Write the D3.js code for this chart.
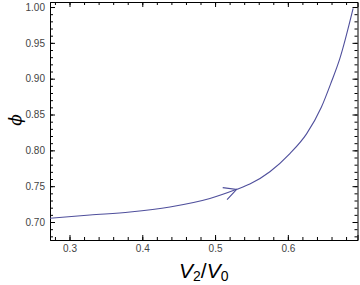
<!DOCTYPE html>
<html>
<head>
<meta charset="utf-8">
<script src="https://cdn.jsdelivr.net/npm/d3@7"></script>
<style>
  body { margin: 0; background: #fff; }
  svg { display: block; }
</style>
</head>
<body>
<svg id="chart"></svg>
<script>
var width = 360,
    height = 285;

// curve samples
var ratio = [0.2732, 0.3281, 0.3831, 0.4380, 0.4929, 0.5296, 0.5478, 0.5753, 0.6028, 0.6257, 0.6460, 0.6600, 0.6714, 0.6897];
var phi   = [0.7052, 0.7098, 0.7140, 0.7210, 0.7328, 0.7456, 0.7530, 0.7702, 0.7955, 0.8230, 0.8600, 0.8960, 0.9280, 0.9982];
var arrowIndex = 5;

var xTicks = [0.3, 0.4, 0.5, 0.6];
var yTicks = [0.70, 0.75, 0.80, 0.85, 0.90, 0.95, 1.00];
var xMinor = d3.range(0.28, 0.70, 0.02);
var yMinor = d3.range(0.68, 1.005, 0.01);

var MARGIN = { LEFT: 50, RIGHT: 2.5, TOP: 2, BOTTOM: 45 };
var plotW = width - MARGIN.LEFT - MARGIN.RIGHT,
    plotH = height - MARGIN.TOP - MARGIN.BOTTOM;

var xScale = d3.scaleLinear().domain([0.2732, 0.6957]).range([0, plotW]);
var yScale = d3.scaleLinear().domain([0.6749, 1.0070]).range([plotH, 0]);

var svg = d3.select('#chart')
    .attr('width', width)
    .attr('height', height);

var g = svg.append('g')
    .attr('transform', 'translate(' + MARGIN.LEFT + ',' + MARGIN.TOP + ')');

var fmtY = d3.format('.2f'),
    fmtX = d3.format('.1f');

function frameAxis(axis, scale, major, minor, fmt, shift) {
    var a = axis(scale).tickValues(major).tickSize(-5).tickPadding(fmt ? 5 : 0)
        .tickFormat(fmt || '');
    var sel = g.append('g').attr('transform', shift).call(a);
    sel.select('.domain').attr('stroke', '#000').attr('stroke-width', 1);
    sel.selectAll('text')
        .style('font-family', '"Liberation Sans", Arial, sans-serif')
        .style('font-size', '10px')
        .attr('fill', '#444');
    var m = axis(scale).tickValues(minor).tickSize(-3).tickFormat('');
    var ms = g.append('g').attr('transform', shift).call(m);
    ms.select('.domain').remove();
    return sel;
}

frameAxis(d3.axisBottom, xScale, xTicks, xMinor, fmtX, 'translate(0,' + plotH + ')');
frameAxis(d3.axisTop, xScale, xTicks, xMinor, null, 'translate(0,0)');
frameAxis(d3.axisLeft, yScale, yTicks, yMinor, fmtY, 'translate(0,0)');
frameAxis(d3.axisRight, yScale, yTicks, yMinor, null, 'translate(' + plotW + ',0)');

g.selectAll('.tick line').attr('stroke', '#000');

// curve
var line = d3.line()
    .x(function (d, i) { return xScale(ratio[i]); })
    .y(function (d, i) { return yScale(phi[i]); })
    .curve(d3.curveMonotoneX);

var curveColor = '#4f4f9c';

g.append('path')
    .datum(ratio)
    .attr('d', line)
    .attr('fill', 'none')
    .attr('stroke', curveColor)
    .attr('stroke-width', 1.1);

// open arrowhead on the curve
var tx = xScale(ratio[arrowIndex]), ty = yScale(phi[arrowIndex]);
var dx = xScale(ratio[arrowIndex + 1]) - xScale(ratio[arrowIndex - 1]),
    dy = yScale(phi[arrowIndex + 1]) - yScale(phi[arrowIndex - 1]);
var back = Math.atan2(-dy, -dx),
    spread = 27 * Math.PI / 180,
    len = 14;
var wing = function (a) { return [tx + len * Math.cos(a), ty + len * Math.sin(a)]; };
var w1 = wing(back - spread), w2 = wing(back + spread);

g.append('path')
    .attr('d', 'M' + w1[0] + ',' + w1[1] + 'L' + tx + ',' + ty + 'L' + w2[0] + ',' + w2[1])
    .attr('fill', 'none')
    .attr('stroke', curveColor)
    .attr('stroke-width', 1.1);

// axis labels
var xl = svg.append('text')
    .attr('x', MARGIN.LEFT + plotW / 2)
    .attr('y', 278)
    .attr('text-anchor', 'middle')
    .style('font-family', '"Liberation Sans", Arial, sans-serif')
    .style('font-style', 'italic')
    .style('font-size', '21px')
    .attr('fill', '#000');
xl.append('tspan').text('V');
xl.append('tspan').attr('dy', 3).style('font-size', '14px').style('font-style', 'normal').text('2');
xl.append('tspan').attr('dy', -3).style('font-style', 'normal').text('/');
xl.append('tspan').text('V');
xl.append('tspan').attr('dy', 3).style('font-size', '14px').style('font-style', 'normal').text('0');

svg.append('text')
    .attr('transform', 'translate(21,120) rotate(-90)')
    .attr('text-anchor', 'middle')
    .style('font-family', '"DejaVu Serif", serif')
    .style('font-style', 'italic')
    .style('font-size', '17px')
    .attr('fill', '#000')
    .text('ϕ');
</script>
</body>
</html>
